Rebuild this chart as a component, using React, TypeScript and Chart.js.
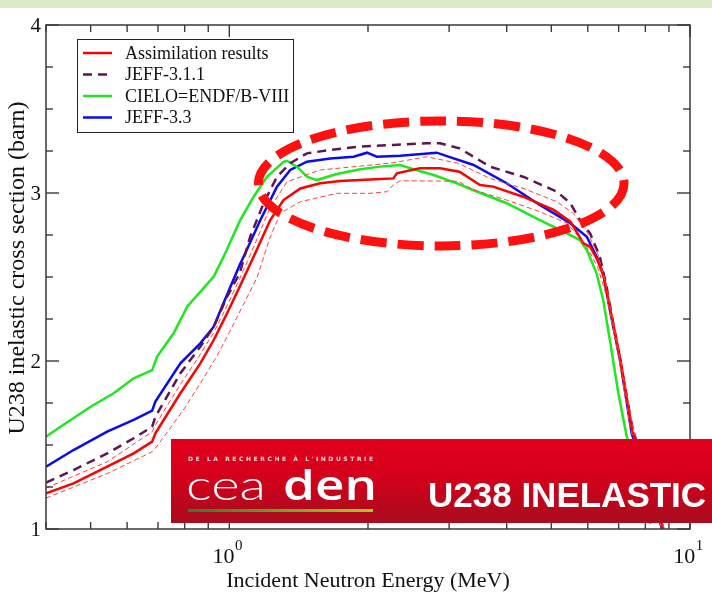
import { useEffect, useRef } from 'react';
import { Chart, registerables } from 'chart.js';

Chart.register(...registerables);

// ---- Evaluated U-238 inelastic cross sections (energy in MeV, sigma in barn) ----
const assimE = [0.4, 0.459, 0.543, 0.62, 0.68, 0.691, 0.783, 0.865, 0.925, 0.989, 1.053, 1.129, 1.227, 1.311, 1.426, 1.575, 1.74, 2.02, 2.27, 2.31, 2.59, 2.87, 3.16, 3.5, 3.74, 4.34, 5.06, 5.5, 5.87, 6.07, 6.3, 6.5, 6.72, 7.07, 7.5, 8.75];
const assimXS = [1.212, 1.272, 1.371, 1.45, 1.52, 1.57, 1.808, 1.986, 2.125, 2.284, 2.442, 2.621, 2.839, 2.958, 3.027, 3.058, 3.071, 3.081, 3.087, 3.117, 3.147, 3.147, 3.127, 3.048, 3.038, 2.978, 2.899, 2.829, 2.7, 2.68, 2.6, 2.5, 2.3, 2.0, 1.58, 1.0];

const assimUpE = [0.4, 0.543, 0.68, 0.691, 0.783, 0.865, 0.925, 0.989, 1.053, 1.13, 1.22, 1.334, 1.575, 1.924, 2.27, 2.68, 3.14, 3.68, 4.34, 5.14, 5.58, 6.0, 6.3, 6.6, 7.0, 7.5, 8.8];
const assimUpXS = [1.244, 1.4, 1.579, 1.62, 1.86, 2.04, 2.17, 2.33, 2.49, 2.68, 2.9, 3.067, 3.137, 3.16, 3.18, 3.216, 3.177, 3.087, 3.028, 2.948, 2.879, 2.76, 2.64, 2.44, 2.06, 1.62, 1.0];

const assimLoE = [0.4, 0.543, 0.68, 0.7, 0.8, 0.88, 0.94, 1.0, 1.07, 1.15, 1.22, 1.29, 1.426, 1.71, 2.02, 2.2, 2.27, 2.35, 3.14, 3.39, 4.0, 4.72, 5.41, 5.97, 6.3, 6.6, 7.0, 7.45, 8.7];
const assimLoXS = [1.184, 1.33, 1.46, 1.5, 1.72, 1.9, 2.03, 2.17, 2.33, 2.5, 2.72, 2.88, 2.948, 2.998, 2.998, 3.008, 3.048, 3.073, 3.07, 3.018, 2.958, 2.889, 2.82, 2.68, 2.56, 2.38, 2.02, 1.58, 1.0];

const jeff311E = [0.4, 0.459, 0.543, 0.62, 0.68, 0.691, 0.783, 0.865, 0.925, 0.989, 1.053, 1.11, 1.187, 1.269, 1.356, 1.474, 1.656, 1.924, 2.27, 2.68, 2.87, 3.16, 3.68, 4.34, 5.14, 5.5, 5.77, 6.07, 6.37, 6.59, 7.0, 7.5, 8.75];
const jeff311XS = [1.276, 1.351, 1.45, 1.54, 1.609, 1.668, 1.927, 2.085, 2.204, 2.383, 2.522, 2.74, 2.939, 3.097, 3.177, 3.236, 3.256, 3.276, 3.286, 3.296, 3.296, 3.266, 3.157, 3.097, 3.008, 2.939, 2.839, 2.76, 2.621, 2.442, 2.05, 1.6, 1.0];

const cieloE = [0.4, 0.43, 0.5, 0.561, 0.62, 0.68, 0.697, 0.757, 0.81, 0.925, 0.972, 1.056, 1.129, 1.207, 1.311, 1.334, 1.402, 1.474, 1.549, 1.712, 1.924, 2.126, 2.349, 2.51, 2.776, 3.14, 3.38, 4.0, 4.72, 5.41, 5.77, 5.97, 6.27, 6.48, 6.7, 6.99, 7.29, 8.2];
const cieloXS = [1.549, 1.609, 1.728, 1.808, 1.897, 1.946, 2.026, 2.165, 2.323, 2.502, 2.621, 2.839, 2.978, 3.097, 3.186, 3.192, 3.157, 3.097, 3.077, 3.113, 3.141, 3.157, 3.167, 3.141, 3.107, 3.054, 3.018, 2.939, 2.839, 2.76, 2.72, 2.661, 2.522, 2.363, 2.125, 1.808, 1.55, 1.03];

const jeff33E = [0.4, 0.459, 0.543, 0.62, 0.68, 0.691, 0.783, 0.865, 0.925, 0.964, 1.053, 1.074, 1.168, 1.269, 1.356, 1.474, 1.656, 1.86, 1.99, 2.09, 2.349, 2.82, 3.0, 3.39, 4.0, 4.72, 5.5, 5.97, 6.27, 6.48, 6.7, 7.05, 7.47, 8.7];
const jeff33XS = [1.371, 1.47, 1.579, 1.649, 1.704, 1.758, 1.986, 2.105, 2.204, 2.323, 2.571, 2.621, 2.839, 3.038, 3.137, 3.186, 3.206, 3.216, 3.24, 3.216, 3.222, 3.24, 3.215, 3.167, 3.058, 2.929, 2.82, 2.74, 2.621, 2.522, 2.304, 2.006, 1.57, 1.0];

// ---- Axes ----
const X_MIN = 0.4;
const X_MAX = 10;
const Y_MIN = 1;
const Y_MAX = 4;
const xMajorTicks = [1, 10];
const xMinorTicks = [0.4, 0.5, 0.6, 0.7, 0.8, 0.9, 2, 3, 4, 5, 6, 7, 8, 9];
const xTickExponents = ['0', '1'];
const yMajorTicks = [1, 2, 3, 4];
const yMinorTicks = [1.25, 1.5, 1.75, 2.25, 2.5, 2.75, 3.25, 3.5, 3.75];

const xTitle = 'Incident Neutron Energy (MeV)';
const yTitle = 'U238 inelastic cross section (barn)';
const bannerTitle = 'U238 INELASTIC';
const bannerTagline = "DE LA RECHERCHE \u00C0 L'INDUSTRIE";

// Highlighted plateau region (energy in MeV, sigma in barn)
const focusE = [1.156, 7.19];
const focusXS = [2.685, 3.429];

const SERIF = '"Liberation Serif", "Times New Roman", serif';

const pts = (e: number[], s: number[]) => e.map((v, i) => ({ x: v, y: s[i] }));

const axesPlugin = {
  id: 'axesFrame',
  beforeDraw(chart: any) {
    const { ctx } = chart;
    ctx.save();
    ctx.fillStyle = '#dfe9c9';
    ctx.fillRect(0, 0, chart.width, 8);
    ctx.restore();
  },
  afterDatasetsDraw(chart: any) {
    const { ctx, chartArea: a, scales } = chart;
    const xs = scales.x;
    const ys = scales.y;
    ctx.save();
    ctx.strokeStyle = '#3a3a3a';
    ctx.lineWidth = 1.5;
    ctx.strokeRect(a.left, a.top, a.right - a.left, a.bottom - a.top);
    const seg = (x1: number, y1: number, x2: number, y2: number) => {
      ctx.beginPath();
      ctx.moveTo(x1, y1);
      ctx.lineTo(x2, y2);
      ctx.stroke();
    };
    ctx.lineWidth = 1.4;
    xMajorTicks.forEach((v) => {
      const px = xs.getPixelForValue(v);
      seg(px, a.bottom, px, a.bottom - 12);
      seg(px, a.top, px, a.top + 12);
    });
    xMinorTicks.forEach((v) => {
      const px = xs.getPixelForValue(v);
      seg(px, a.bottom, px, a.bottom - 7);
      seg(px, a.top, px, a.top + 7);
    });
    yMajorTicks.forEach((v) => {
      const py = ys.getPixelForValue(v);
      seg(a.left, py, a.left + 13, py);
      seg(a.right, py, a.right - 13, py);
    });
    yMinorTicks.forEach((v) => {
      const py = ys.getPixelForValue(v);
      seg(a.left, py, a.left + 7, py);
      seg(a.right, py, a.right - 7, py);
    });

    // tick labels
    ctx.fillStyle = '#111';
    ctx.font = `21px ${SERIF}`;
    ctx.textAlign = 'right';
    ctx.textBaseline = 'middle';
    yMajorTicks.forEach((v) => {
      ctx.fillText(String(v), a.left - 5, ys.getPixelForValue(v) + 1);
    });
    ctx.textBaseline = 'alphabetic';
    ctx.textAlign = 'left';
    xMajorTicks.forEach((v, i) => {
      const px = xs.getPixelForValue(v);
      ctx.font = `22px ${SERIF}`;
      const wBase = ctx.measureText('10').width;
      ctx.font = `15px ${SERIF}`;
      const wSup = ctx.measureText(xTickExponents[i]).width;
      const start = px - (wBase + wSup) / 2 - 2;
      ctx.font = `22px ${SERIF}`;
      ctx.fillText('10', start, a.bottom + 34);
      ctx.font = `15px ${SERIF}`;
      ctx.fillText(xTickExponents[i], start + wBase + 0.5, a.bottom + 21);
    });

    // axis titles
    ctx.font = `22px ${SERIF}`;
    ctx.textAlign = 'center';
    ctx.fillText(xTitle, 368, a.bottom + 58);
    ctx.save();
    ctx.translate(24, 268);
    ctx.rotate(-Math.PI / 2);
    ctx.font = `24px ${SERIF}`;
    ctx.fillText(yTitle, 0, 0);
    ctx.restore();

    // legend
    const items = chart.data.datasets.filter((d: any) => d.label);
    const lx = 77, ly = 39, lw = 216, lh = 93;
    ctx.fillStyle = '#fff';
    ctx.fillRect(lx, ly, lw, lh);
    ctx.strokeStyle = '#222';
    ctx.lineWidth = 1;
    ctx.strokeRect(lx + 0.5, ly + 0.5, lw, lh);
    ctx.font = `18px ${SERIF}`;
    ctx.textAlign = 'left';
    ctx.textBaseline = 'middle';
    items.forEach((d: any, i: number) => {
      const yy = ly + 14 + i * 21.5;
      ctx.strokeStyle = d.borderColor;
      ctx.lineWidth = d.borderWidth;
      ctx.setLineDash(d.borderDash || []);
      seg(83, yy, 112, yy);
      ctx.setLineDash([]);
      ctx.fillStyle = '#111';
      ctx.fillText(d.label, 125, yy + 1);
    });
    ctx.restore();
  },
  afterDraw(chart: any) {
    const { ctx, scales } = chart;
    const xs = scales.x;
    const ys = scales.y;
    ctx.save();

    // dashed ellipse around the resonance plateau
    const x1 = xs.getPixelForValue(focusE[0]);
    const x2 = xs.getPixelForValue(focusE[1]);
    const y1 = ys.getPixelForValue(focusXS[1]);
    const y2 = ys.getPixelForValue(focusXS[0]);
    ctx.strokeStyle = '#ff1010';
    ctx.lineWidth = 9;
    ctx.setLineDash([26, 11]);
    ctx.beginPath();
    ctx.ellipse((x1 + x2) / 2, (y1 + y2) / 2, (x2 - x1) / 2, (y2 - y1) / 2, 0, 0, Math.PI * 2);
    ctx.stroke();
    ctx.setLineDash([]);

    // banner
    const bx = 171, by = 439, bw = chart.width - 171, bh = 84;
    const g = ctx.createLinearGradient(0, by, 0, by + bh);
    g.addColorStop(0, '#e2001d');
    g.addColorStop(0.45, '#d4001b');
    g.addColorStop(1, '#a80c1e');
    ctx.fillStyle = g;
    ctx.fillRect(bx, by, bw, bh);

    // tagline
    ctx.fillStyle = '#f6d6da';
    ctx.font = 'bold 6px "DejaVu Sans", sans-serif';
    ctx.textBaseline = 'alphabetic';
    ctx.textAlign = 'left';
    (ctx as any).letterSpacing = '0px';
    const tw = ctx.measureText(bannerTagline).width;
    const spacing = (185 - tw) / (bannerTagline.length - 1);
    (ctx as any).letterSpacing = `${spacing}px`;
    ctx.fillText(bannerTagline, 188, 461);
    (ctx as any).letterSpacing = '0px';

    // logo words
    ctx.fillStyle = '#ffffff';
    ctx.font = '300 42px Lato, "Open Sans", sans-serif';
    const wCea = ctx.measureText('cea').width;
    ctx.save();
    ctx.translate(186, 500);
    ctx.scale(80 / wCea, 1);
    ctx.fillText('cea', 0, 0);
    ctx.restore();
    ctx.font = '600 42px "Open Sans", Lato, sans-serif';
    const wDen = ctx.measureText('den').width;
    ctx.save();
    ctx.translate(283, 500);
    ctx.scale(94 / wDen, 1);
    ctx.fillText('den', 0, 0);
    ctx.restore();

    const gg = ctx.createLinearGradient(188, 0, 373, 0);
    gg.addColorStop(0, '#2f7a2e');
    gg.addColorStop(1, '#a6cc1c');
    ctx.fillStyle = gg;
    ctx.fillRect(188, 509, 185, 3);

    // title
    ctx.fillStyle = '#ffffff';
    ctx.font = 'bold 35px "Liberation Sans", Arial, sans-serif';
    ctx.fillText(bannerTitle, 428, 507);
    ctx.restore();
  },
};

export default function App() {
  const canvasRef = useRef<HTMLCanvasElement | null>(null);

  useEffect(() => {
    const canvas = canvasRef.current;
    if (!canvas) return;
    const band = {
      borderColor: '#ff4040',
      borderWidth: 1,
      borderDash: [5, 3],
      pointRadius: 0,
      fill: false,
    };
    const chart = new Chart(canvas, {
      type: 'line',
      data: {
        datasets: [
          { ...band, label: '', data: pts(assimUpE, assimUpXS) },
          { ...band, label: '', data: pts(assimLoE, assimLoXS) },
          { label: 'Assimilation results', data: pts(assimE, assimXS), borderColor: '#ff0000', borderWidth: 2.5, pointRadius: 0, fill: false },
          { label: 'JEFF-3.1.1', data: pts(jeff311E, jeff311XS), borderColor: '#621353', borderWidth: 2.5, borderDash: [9, 6], pointRadius: 0, fill: false },
          { label: 'CIELO=ENDF/B-VIII', data: pts(cieloE, cieloXS), borderColor: '#1ee81e', borderWidth: 2.5, pointRadius: 0, fill: false },
          { label: 'JEFF-3.3', data: pts(jeff33E, jeff33XS), borderColor: '#0a0af5', borderWidth: 2.5, pointRadius: 0, fill: false },
        ],
      } as any,
      options: {
        responsive: false,
        animation: false,
        devicePixelRatio: 1,
        layout: { padding: { left: 46, top: 25, right: 22, bottom: 66 } },
        plugins: { legend: { display: false }, tooltip: { enabled: false } },
        elements: { line: { tension: 0 }, point: { radius: 0 } },
        scales: {
          x: { type: 'logarithmic', min: X_MIN, max: X_MAX, display: false },
          y: { type: 'linear', min: Y_MIN, max: Y_MAX, display: false },
        },
      } as any,
      plugins: [axesPlugin],
    });
    return () => chart.destroy();
  }, []);

  return (
    <div style={{ position: 'fixed', left: 0, top: 0, width: 712, height: 595, background: '#fff' }}>
      <canvas ref={canvasRef} width={712} height={595} style={{ display: 'block' }} />
    </div>
  );
}
